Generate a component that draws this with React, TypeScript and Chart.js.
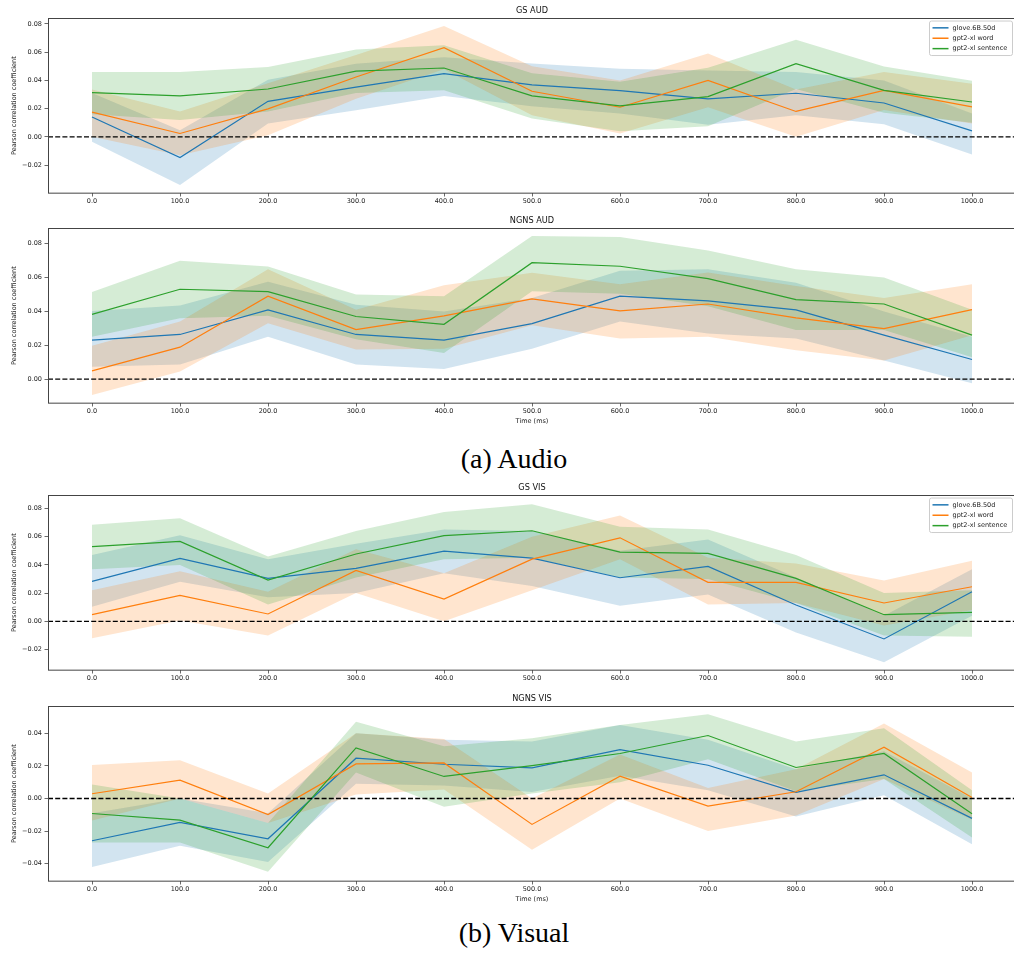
import React, { useEffect, useRef } from "react";
import { Chart, registerables } from "chart.js";

Chart.register(...registerables);

// ---------- shared data ----------
const times = [0, 100, 200, 300, 400, 500, 600, 700, 800, 900, 1000];
const xTickValues = [0, 100, 200, 300, 400, 500, 600, 700, 800, 900, 1000];
const seriesNames = ["glove.6B.50d", "gpt2-xl word", "gpt2-xl sentence"];
const lineColors = ["#1f77b4", "#ff7f0e", "#2ca02c"];
const bandColors = ["rgba(31,119,180,0.2)", "rgba(255,127,14,0.2)", "rgba(44,160,44,0.2)"];

// ---------- GS AUD ----------
const gsAudGloveMean = [0.0141, -0.0146, 0.0252, 0.0353, 0.0448, 0.0368, 0.0328, 0.0269, 0.0309, 0.024, 0.0042];
const gsAudGloveLow = [-0.0035, -0.0341, 0.0095, 0.0189, 0.029, 0.0217, 0.0165, 0.0085, 0.0153, 0.009, -0.0125];
const gsAudGloveHigh = [0.031, 0.0047, 0.0405, 0.0519, 0.0565, 0.052, 0.0483, 0.047, 0.046, 0.04, 0.0165];
const gsAudWordMean = [0.0175, 0.0024, 0.0198, 0.0424, 0.0632, 0.0323, 0.021, 0.04, 0.018, 0.033, 0.0212];
const gsAudWordLow = [0.0, -0.013, 0.0012, 0.027, 0.048, 0.0153, 0.0024, 0.021, 0.0, 0.019, 0.0095];
const gsAudWordHigh = [0.0335, 0.018, 0.038, 0.058, 0.0785, 0.05, 0.04, 0.059, 0.0335, 0.046, 0.0377];
const gsAudSentMean = [0.0314, 0.029, 0.0339, 0.0466, 0.0488, 0.029, 0.0219, 0.0285, 0.0519, 0.033, 0.0247];
const gsAudSentLow = [0.016, 0.012, 0.018, 0.031, 0.033, 0.013, 0.004, 0.0075, 0.034, 0.017, 0.01];
const gsAudSentHigh = [0.046, 0.046, 0.0495, 0.062, 0.065, 0.045, 0.039, 0.049, 0.0688, 0.0499, 0.0398];
const gsAudYTicks = [-0.02, 0, 0.02, 0.04, 0.06, 0.08];

// ---------- NGNS AUD ----------
const ngnsAudGloveMean = [0.023, 0.0264, 0.0409, 0.0264, 0.023, 0.0328, 0.049, 0.0462, 0.0409, 0.026, 0.0116];
const ngnsAudGloveLow = [0.0073, 0.0087, 0.025, 0.0087, 0.006, 0.018, 0.034, 0.027, 0.024, 0.011, -0.0025];
const ngnsAudGloveHigh = [0.0403, 0.0435, 0.0575, 0.044, 0.04, 0.048, 0.064, 0.065, 0.057, 0.04, 0.025];
const ngnsAudWordMean = [0.0049, 0.0189, 0.049, 0.0293, 0.0374, 0.0474, 0.0403, 0.0444, 0.0362, 0.0299, 0.0411];
const ngnsAudWordLow = [-0.0094, 0.0045, 0.033, 0.0175, 0.018, 0.0319, 0.024, 0.025, 0.017, 0.011, 0.026];
const ngnsAudWordHigh = [0.0197, 0.034, 0.065, 0.041, 0.0555, 0.0629, 0.056, 0.063, 0.055, 0.048, 0.056];
const ngnsAudSentMean = [0.0383, 0.0531, 0.0517, 0.037, 0.0324, 0.0688, 0.0667, 0.0594, 0.047, 0.0444, 0.026];
const ngnsAudSentLow = [0.025, 0.036, 0.0375, 0.0235, 0.0155, 0.052, 0.0505, 0.043, 0.029, 0.029, 0.013];
const ngnsAudSentHigh = [0.0515, 0.07, 0.0665, 0.05, 0.049, 0.0846, 0.084, 0.076, 0.065, 0.06, 0.041];
const ngnsAudYTicks = [0, 0.02, 0.04, 0.06, 0.08];

// ---------- GS VIS ----------
const gsVisGloveMean = [0.0283, 0.0446, 0.0304, 0.0375, 0.0498, 0.0448, 0.0309, 0.0389, 0.0116, -0.0125, 0.021];
const gsVisGloveLow = [0.0104, 0.028, 0.017, 0.02, 0.034, 0.025, 0.011, 0.019, -0.008, -0.029, 0.004];
const gsVisGloveHigh = [0.047, 0.061, 0.044, 0.055, 0.065, 0.064, 0.05, 0.058, 0.031, 0.004, 0.037];
const gsVisWordMean = [0.0047, 0.0184, 0.0052, 0.0361, 0.0158, 0.0441, 0.0592, 0.0276, 0.0276, 0.013, 0.0245];
const gsVisWordLow = [-0.012, 0.0005, -0.01, 0.02, 0.0, 0.022, 0.044, 0.012, 0.013, -0.003, 0.008];
const gsVisWordHigh = [0.022, 0.0355, 0.021, 0.051, 0.034, 0.06, 0.075, 0.045, 0.041, 0.029, 0.043];
const gsVisSentMean = [0.0529, 0.0566, 0.0293, 0.0477, 0.0607, 0.0642, 0.0491, 0.0481, 0.0304, 0.0047, 0.0064];
const gsVisSentLow = [0.037, 0.04, 0.012, 0.031, 0.044, 0.045, 0.031, 0.03, 0.013, -0.01, -0.011];
const gsVisSentHigh = [0.0685, 0.073, 0.046, 0.064, 0.0775, 0.083, 0.067, 0.065, 0.047, 0.02, 0.022];
const gsVisYTicks = [-0.02, 0, 0.02, 0.04, 0.06, 0.08];

// ---------- NGNS VIS ----------
const ngnsVisGloveMean = [-0.0259, -0.0147, -0.0247, 0.0247, 0.021, 0.0188, 0.03, 0.0204, 0.0037, 0.0145, -0.0122];
const ngnsVisGloveLow = [-0.042, -0.029, -0.039, 0.009, 0.008, 0.004, 0.014, 0.005, -0.011, 0.002, -0.028];
const ngnsVisGloveHigh = [-0.009, 0.0, -0.009, 0.04, 0.036, 0.035, 0.045, 0.036, 0.018, 0.029, 0.0];
const ngnsVisWordMean = [0.0029, 0.0112, -0.0098, 0.0212, 0.0218, -0.0159, 0.0137, -0.0047, 0.0041, 0.0314, 0.0006];
const ngnsVisWordLow = [-0.0135, 0.0, -0.015, 0.0025, 0.0055, -0.0315, 0.0, -0.02, -0.0105, 0.012, -0.013];
const ngnsVisWordHigh = [0.0205, 0.0235, 0.003, 0.04, 0.0365, 0.0, 0.027, 0.0065, 0.018, 0.046, 0.016];
const ngnsVisSentMean = [-0.0092, -0.0133, -0.0302, 0.031, 0.0135, 0.0202, 0.0276, 0.0386, 0.019, 0.0276, -0.0094];
const ngnsVisSentLow = [-0.027, -0.027, -0.045, 0.016, -0.005, 0.003, 0.01, 0.024, 0.0045, 0.012, -0.024];
const ngnsVisSentHigh = [0.0085, 0.0, -0.015, 0.047, 0.032, 0.037, 0.045, 0.0516, 0.035, 0.043, 0.005];
const ngnsVisYTicks = [-0.04, -0.02, 0, 0.02, 0.04];

const FONT = "'DejaVu Sans', sans-serif";

type PanelSpec = {
  title: string;
  means: number[][];
  lows: number[][];
  highs: number[][];
  yTicks: number[];
  yMin: number;
  yMax: number;
  legend: boolean;
  xTitle: boolean;
  top: number;
};

const panels: PanelSpec[] = [
  {
    title: "GS AUD",
    means: [gsAudGloveMean, gsAudWordMean, gsAudSentMean],
    lows: [gsAudGloveLow, gsAudWordLow, gsAudSentLow],
    highs: [gsAudGloveHigh, gsAudWordHigh, gsAudSentHigh],
    yTicks: gsAudYTicks,
    yMin: -0.0398,
    yMax: 0.084,
    legend: true,
    xTitle: false,
    top: 4,
  },
  {
    title: "NGNS AUD",
    means: [ngnsAudGloveMean, ngnsAudWordMean, ngnsAudSentMean],
    lows: [ngnsAudGloveLow, ngnsAudWordLow, ngnsAudSentLow],
    highs: [ngnsAudGloveHigh, ngnsAudWordHigh, ngnsAudSentHigh],
    yTicks: ngnsAudYTicks,
    yMin: -0.0141,
    yMax: 0.0891,
    legend: false,
    xTitle: true,
    top: 214,
  },
  {
    title: "GS VIS",
    means: [gsVisGloveMean, gsVisWordMean, gsVisSentMean],
    lows: [gsVisGloveLow, gsVisWordLow, gsVisSentLow],
    highs: [gsVisGloveHigh, gsVisWordHigh, gsVisSentHigh],
    yTicks: gsVisYTicks,
    yMin: -0.0345,
    yMax: 0.0893,
    legend: true,
    xTitle: false,
    top: 481,
  },
  {
    title: "NGNS VIS",
    means: [ngnsVisGloveMean, ngnsVisWordMean, ngnsVisSentMean],
    lows: [ngnsVisGloveLow, ngnsVisWordLow, ngnsVisSentLow],
    highs: [ngnsVisGloveHigh, ngnsVisWordHigh, ngnsVisSentHigh],
    yTicks: ngnsVisYTicks,
    yMin: -0.0506,
    yMax: 0.0565,
    legend: false,
    xTitle: true,
    top: 692,
  },
];

const framePlugin = {
  id: "mplFrame",
  afterDatasetsDraw(chart: any) {
    const { ctx, chartArea: a, scales } = chart;
    const y0 = scales.y.getPixelForValue(0);
    ctx.save();
    ctx.strokeStyle = "#000";
    ctx.lineWidth = 1.3;
    ctx.setLineDash([5, 2.2]);
    ctx.beginPath();
    ctx.moveTo(a.left, y0);
    ctx.lineTo(a.right, y0);
    ctx.stroke();
    ctx.setLineDash([]);
    ctx.strokeStyle = "#444";
    ctx.lineWidth = 1;
    ctx.strokeRect(Math.round(a.left) + 0.5, Math.round(a.top) + 0.5, a.right - a.left, a.bottom - a.top);
    ctx.restore();
  },
};

const legendPlugin = {
  id: "mplLegend",
  afterDraw(chart: any, _args: any, opts: any) {
    if (!opts || !opts.show) return;
    const { ctx, chartArea: a } = chart;
    const items = chart.data.datasets.filter((d: any) => d.label);
    const w = 83;
    const h = 34.5;
    const right = a.right - 3.5;
    const left = right - w;
    const top = a.top + 2.7;
    ctx.save();
    ctx.beginPath();
    const r = 2;
    ctx.moveTo(left + r, top);
    ctx.lineTo(left + w - r, top);
    ctx.quadraticCurveTo(left + w, top, left + w, top + r);
    ctx.lineTo(left + w, top + h - r);
    ctx.quadraticCurveTo(left + w, top + h, left + w - r, top + h);
    ctx.lineTo(left + r, top + h);
    ctx.quadraticCurveTo(left, top + h, left, top + h - r);
    ctx.lineTo(left, top + r);
    ctx.quadraticCurveTo(left, top, left + r, top);
    ctx.closePath();
    ctx.fillStyle = "rgba(255,255,255,0.8)";
    ctx.fill();
    ctx.strokeStyle = "#cccccc";
    ctx.lineWidth = 1;
    ctx.stroke();
    ctx.font = `6.5px ${FONT}`;
    ctx.textBaseline = "middle";
    ctx.textAlign = "left";
    items.forEach((d: any, i: number) => {
      const yy = top + 6.8 + i * 10.4;
      ctx.strokeStyle = d.borderColor;
      ctx.lineWidth = 1.5;
      ctx.beginPath();
      ctx.moveTo(left + 3, yy);
      ctx.lineTo(left + 19, yy);
      ctx.stroke();
      ctx.fillStyle = "#222";
      ctx.fillText(d.label, left + 23, yy);
    });
    ctx.restore();
  },
};

function fmtY(v: number) {
  const s = Math.abs(v).toFixed(2);
  return v < -1e-9 ? "\u2212" + s : s;
}

function Panel({ spec }: { spec: PanelSpec }) {
  const ref = useRef<HTMLCanvasElement>(null);
  const xAxisHeight = spec.xTitle ? 26 : 14;
  const height = 14 + 175 + xAxisHeight;

  useEffect(() => {
    const datasets: any[] = [];
    const bandOrder = [3, 2, 1];
    const lineOrder = [0.3, 0.2, 0.1];
    for (let k = 0; k < 3; k++) {
      datasets.push({
        data: times.map((t, i) => ({ x: t, y: spec.highs[k][i] })),
        borderWidth: 0,
        borderColor: "transparent",
        backgroundColor: bandColors[k],
        pointRadius: 0,
        fill: false,
        order: bandOrder[k],
        tension: 0,
      });
      datasets.push({
        data: times.map((t, i) => ({ x: t, y: spec.lows[k][i] })),
        borderWidth: 0,
        borderColor: "transparent",
        backgroundColor: bandColors[k],
        pointRadius: 0,
        fill: "-1",
        order: bandOrder[k],
        tension: 0,
      });
    }
    for (let k = 0; k < 3; k++) {
      datasets.push({
        label: seriesNames[k],
        data: times.map((t, i) => ({ x: t, y: spec.means[k][i] })),
        borderColor: lineColors[k],
        backgroundColor: lineColors[k],
        borderWidth: 1.2,
        pointRadius: 0,
        fill: false,
        order: lineOrder[k],
        tension: 0,
      });
    }

    const tickFont = { family: FONT, size: 6.5 };
    const chart = new Chart(ref.current as HTMLCanvasElement, {
      type: "line",
      data: { datasets },
      plugins: [framePlugin, legendPlugin],
      options: {
        animation: false,
        responsive: false,
        devicePixelRatio: 1,
        events: [],
        layout: { padding: { left: 0, right: 1, top: 0, bottom: 0 } },
        plugins: {
          legend: { display: false },
          tooltip: { enabled: false },
          filler: { drawTime: "beforeDatasetsDraw", propagate: false },
          title: {
            display: true,
            text: spec.title,
            fullSize: false,
            align: "center",
            color: "#111",
            font: { family: FONT, size: 8.2, weight: "normal", lineHeight: 1.2 },
            padding: { top: 1.7, bottom: 2.8 },
          },
          mplLegend: { show: spec.legend },
        } as any,
        scales: {
          x: {
            type: "linear",
            min: -50,
            max: 1050,
            border: { display: false },
            grid: { display: true, drawOnChartArea: false, drawTicks: true, tickLength: 3.5, color: "#444", lineWidth: 0.8 },
            ticks: {
              autoSkip: false,
              maxRotation: 0,
              minRotation: 0,
              padding: 1,
              color: "#222",
              font: tickFont,
              callback: (v: any) => Number(v).toFixed(1),
            },
            afterBuildTicks: (s: any) => {
              s.ticks = xTickValues.map((v) => ({ value: v }));
            },
            afterFit: (s: any) => {
              s.height = xAxisHeight;
            },
            title: {
              display: spec.xTitle,
              text: "Time (ms)",
              color: "#222",
              font: { family: FONT, size: 6.5 },
              padding: { top: 0, bottom: 3.8 },
            },
          },
          y: {
            type: "linear",
            min: spec.yMin,
            max: spec.yMax,
            border: { display: false },
            grid: { display: true, drawOnChartArea: false, drawTicks: true, tickLength: 3.5, color: "#444", lineWidth: 0.8 },
            ticks: {
              autoSkip: false,
              padding: 2.5,
              color: "#222",
              font: tickFont,
              callback: (v: any) => fmtY(Number(v)),
            },
            afterBuildTicks: (s: any) => {
              s.ticks = spec.yTicks.map((v) => ({ value: v }));
            },
            afterFit: (s: any) => {
              s.width = 48;
            },
            title: {
              display: true,
              text: "Pearson correlation coefficient",
              color: "#222",
              font: { family: FONT, size: 6.5 },
              padding: { top: 10.6, bottom: 0 },
            },
          },
        },
      } as any,
    });
    return () => chart.destroy();
  }, []);

  return (
    <canvas
      ref={ref}
      width={1017}
      height={height}
      style={{ position: "absolute", left: 0, top: spec.top, display: "block" }}
    />
  );
}

const captionStyle = (top: number): React.CSSProperties => ({
  position: "absolute",
  left: 314,
  width: 400,
  top,
  textAlign: "center",
  fontFamily: "'Liberation Serif', 'Times New Roman', serif",
  fontSize: 28,
  lineHeight: "28px",
  color: "#000",
  whiteSpace: "nowrap",
});

export default function App() {
  return (
    <div
      style={{
        position: "absolute",
        left: 0,
        top: 0,
        width: 1014,
        height: 956,
        overflow: "hidden",
        background: "#fff",
      }}
    >
      {panels.map((p) => (
        <Panel key={p.title} spec={p} />
      ))}
      <div style={captionStyle(444.6)}>(a) Audio</div>
      <div style={captionStyle(918.6)}>(b) Visual</div>
    </div>
  );
}
